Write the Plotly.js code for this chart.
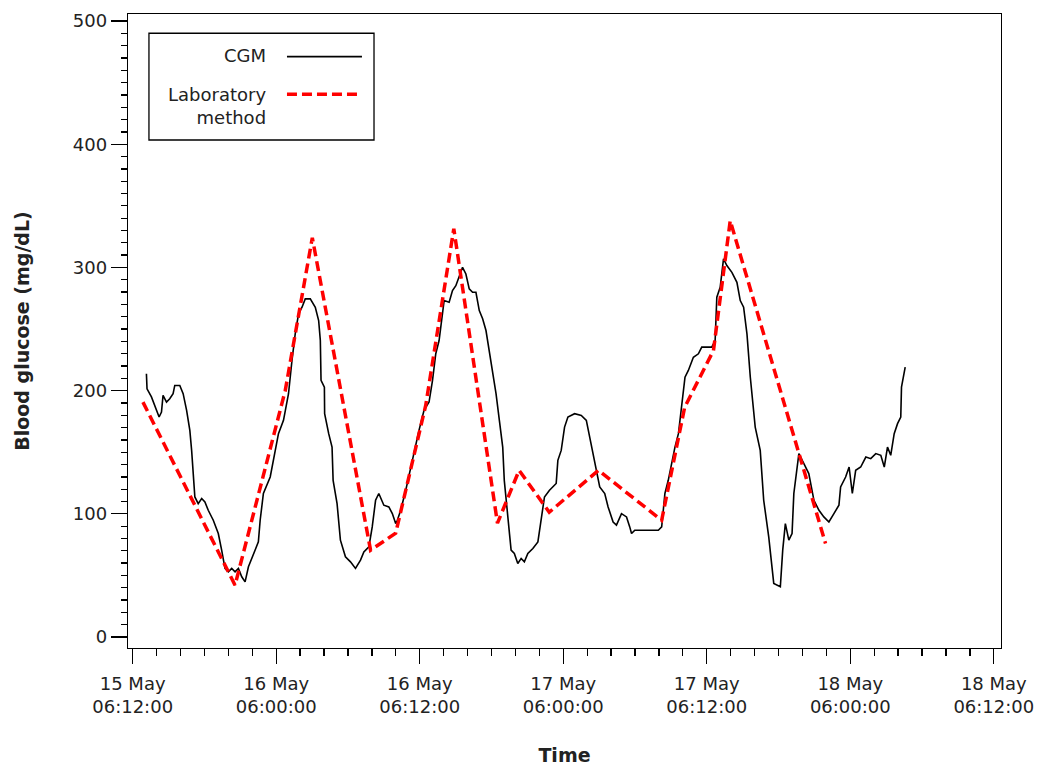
<!DOCTYPE html>
<html>
<head>
<meta charset="utf-8">
<script src="https://cdn.plot.ly/plotly-3.0.1.min.js"></script>
<style>html,body{margin:0;padding:0;background:#fff;}</style>
</head>
<body>
<div id="chart" style="width:1045px;height:767px;"></div>
<script>
// Hours elapsed since 15 May 06:12:00 tick
const cgmHours = [1.15,1.20,1.57,1.85,2.21,2.41,2.54,2.83,3.10,3.38,3.52,3.94,4.22,4.51,4.78,4.93,5.06,5.20,5.48,5.77,6.04,6.32,6.74,7.16,7.44,7.72,8.00,8.28,8.56,8.84,9.12,9.40,9.68,10.10,10.51,10.66,10.93,11.50,11.77,12.19,
12.61,13.03,13.32,13.59,13.87,14.16,14.43,14.85,15.27,15.55,15.69,15.75,16.03,16.05,16.39,16.67,16.76,17.09,17.37,17.79,18.21,18.63,19.05,19.33,19.75,20.03,20.31,20.58,21.00,21.42,21.71,21.99,22.13,22.41,22.83,23.25,23.66,23.94,24.36,24.78,25.07,25.34,25.62,26.04,26.46,26.74,27.02,27.30,27.58,27.86,28.14,
28.42,28.70,28.98,29.26,29.54,29.96,30.38,30.66,30.94,31.07,31.36,31.64,31.91,32.20,32.48,32.75,33.04,33.46,33.88,34.15,34.43,34.85,35.41,35.55,35.83,36.11,36.39,36.95,37.51,37.93,38.21,38.63,39.05,39.47,39.75,40.17,40.45,40.87,41.29,41.56,41.71,41.98,42.54,43.38,43.95,44.23,
44.50,44.78,45.06,45.34,45.63,45.90,46.18,46.46,46.88,47.30,47.58,48.42,48.70,48.84,49.12,49.40,49.68,50.10,50.52,50.80,51.08,51.36,51.64,52.05,52.47,52.76,53.18,53.60,54.15,54.35,54.57,54.86,55.13,55.28,55.70,56.12,56.53,56.96,57.38,57.79,58.21,58.63,59.05,59.19,59.61,59.90,60.17,60.45,60.87,61.30,61.71,62.13,62.55,62.84,63.11,63.38,63.67,63.95,64.22,64.28,64.59];
const cgmValues = [213.7,201.5,194.9,188.1,178.6,182.6,196.1,190.7,193.4,197.5,204.2,204.2,197.5,184.0,167.7,151.5,135.3,113.7,108.3,112.4,109.6,102.9,94.8,84.0,70.5,55.7,52.9,55.7,52.9,55.7,48.9,44.8,57.0,67.8,77.2,94.8,116.5,129.9,143.4,165.1,
175.9,197.5,224.5,246.1,262.3,267.7,274.5,274.5,267.7,256.9,240.7,208.3,202.8,181.3,165.1,154.2,127.2,108.3,78.6,65.1,61.0,55.7,62.4,69.1,73.2,89.4,111.0,116.5,107.0,105.6,100.2,92.1,94.8,102.9,119.1,138.0,157.0,167.7,184.0,190.7,208.3,229.9,240.7,273.1,271.7,281.2,285.2,293.4,300.1,294.7,282.6,
279.8,279.8,265.0,258.3,248.8,224.5,197.5,175.9,154.2,127.2,94.8,70.5,67.8,59.7,63.8,61.0,67.8,71.9,77.2,94.8,113.7,119.1,124.6,143.4,151.5,170.4,178.5,181.3,179.9,175.9,162.3,143.4,121.8,116.5,105.6,93.4,90.8,100.2,97.5,89.4,84.0,86.7,86.7,86.7,86.7,89.4,
116.5,127.2,140.8,154.2,165.1,186.6,210.9,216.4,227.1,229.9,235.3,235.3,240.7,275.8,283.9,306.9,301.5,296.0,287.9,273.1,267.7,246.1,210.9,170.4,151.5,111.0,81.3,43.5,40.8,70.5,92.1,78.6,84.0,116.5,148.9,140.8,132.7,111.0,102.9,97.5,93.4,100.2,107.0,121.8,129.9,138.0,116.5,135.3,138.0,146.1,144.8,148.9,147.5,138.0,154.2,147.5,165.1,173.2,178.5,202.8,219.0];

const labHours = [0.86,8.56,12.76,15.02,19.89,21.99,24.50,26.85,30.50,32.31,34.83,38.94,44.23,46.15,48.56,49.96,57.93];
const labValues = [190.7,42.1,200.2,324.1,70.5,84.3,188.0,331.4,92.4,135.3,101.3,135.3,94.8,186.4,232.6,337.9,75.9];

const tickHours = [0,12,24,36,48,60,72];
const tickLabels = ['15 May<br>06:12:00','16 May<br>06:00:00','16 May<br>06:12:00','17 May<br>06:00:00','17 May<br>06:12:00','18 May<br>06:00:00','18 May<br>06:12:00'];

const seriesNames = ['CGM', 'Laboratory<br>method'];

const FONT = 'DejaVu Sans, Verdana, sans-serif';
const TXT = '#222';

const traces = [
  {x: cgmHours, y: cgmValues, type: 'scatter', mode: 'lines', name: 'CGM',
   line: {color: '#000', width: 1.6}, showlegend: false},
  {x: labHours, y: labValues, type: 'scatter', mode: 'lines', name: 'Laboratory method',
   line: {color: '#ff0000', width: 3.5, dash: '10px,5px'}, showlegend: false}
];

const layout = {
  width: 1045, height: 767,
  margin: {l: 128, r: 44, t: 14, b: 119},
  paper_bgcolor: '#fff', plot_bgcolor: '#fff',
  font: {family: FONT, color: TXT, size: 18},
  xaxis: {
    range: [-0.39, 72.6],
    tickmode: 'array', tickvals: tickHours, ticktext: tickLabels,
    ticks: 'outside', ticklen: 15, tickwidth: 1.3, tickcolor: '#000',
    ticklabelstandoff: 4,
    showline: true, linecolor: '#000', linewidth: 1.3, mirror: true,
    showgrid: false, zeroline: false,
    tickfont: {family: FONT, size: 18, color: TXT},
    minor: {tickmode: 'linear', tick0: 0, dtick: 2, ticks: 'outside', ticklen: 7, tickwidth: 1.3, tickcolor: '#000', showgrid: false},
    title: {text: 'Time', font: {family: FONT, size: 19, color: TXT, weight: 'bold'}, standoff: 32}
  },
  yaxis: {
    range: [-8.9, 505.7],
    tickmode: 'linear', tick0: 0, dtick: 100,
    ticks: 'outside', ticklen: 16, tickwidth: 1.3, tickcolor: '#000',
    showline: true, linecolor: '#000', linewidth: 1.3, mirror: true,
    showgrid: false, zeroline: false,
    tickfont: {family: FONT, size: 18, color: TXT},
    minor: {tickmode: 'linear', tick0: 0, dtick: 10, ticks: 'outside', ticklen: 6, tickwidth: 1.3, tickcolor: '#000', showgrid: false},
    title: {text: 'Blood glucose (mg/dL)', font: {family: FONT, size: 19, color: TXT, weight: 'bold'}, standoff: 38}
  },
  shapes: [
    {type: 'rect', xref: 'paper', yref: 'paper', x0: 0.024, x1: 0.2818, y0: 0.8013, y1: 0.9696,
     line: {color: '#000', width: 1.3}, fillcolor: 'rgba(0,0,0,0)'},
    {type: 'line', xref: 'paper', yref: 'paper', x0: 0.1821, x1: 0.268, y0: 0.9327, y1: 0.9327,
     line: {color: '#000', width: 1.6}},
    {type: 'line', xref: 'paper', yref: 'paper', x0: 0.1821, x1: 0.268, y0: 0.8733, y1: 0.8733,
     line: {color: '#ff0000', width: 3.5, dash: '10px,5px'}}
  ],
  annotations: [
    {xref: 'paper', yref: 'paper', x: 0.1604, y: 0.9353, xanchor: 'right', yanchor: 'middle',
     text: seriesNames[0], showarrow: false, align: 'right', font: {family: FONT, size: 18, color: TXT}},
    {xref: 'paper', yref: 'paper', x: 0.1604, y: 0.855, xanchor: 'right', yanchor: 'middle',
     text: seriesNames[1], showarrow: false, align: 'right', font: {family: FONT, size: 18, color: TXT}}
  ]
};

Plotly.newPlot('chart', traces, layout, {displayModeBar: false, staticPlot: true});
</script>
</body>
</html>
